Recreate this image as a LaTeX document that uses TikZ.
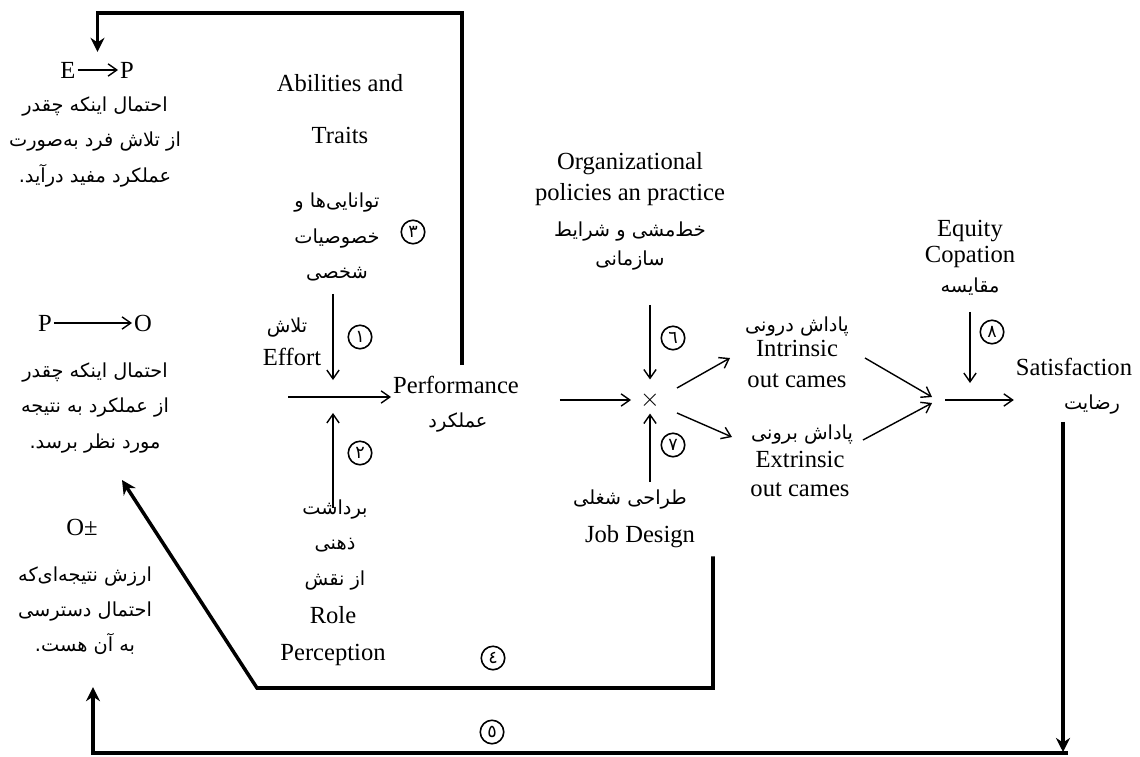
\documentclass[tikz,border=0pt]{standalone}
\usepackage{fontspec}
\setmainfont{Liberation Serif}
\newfontfamily\farsi[Script=Arabic]{DejaVu Sans}
\TeXXeTstate=1
\usetikzlibrary{arrows.meta, calc}
\newcommand{\fa}[1]{\beginR#1\endR}

\begin{document}
\begin{tikzpicture}[x=0.02cm, y=-0.02cm,
  en/.style={font=\fontsize{14}{17}\selectfont, inner sep=1pt, align=center},
  fa/.style={font=\farsi\fontsize{11}{20}\selectfont, inner sep=1pt, align=center},
  num/.style={circle, draw, line width=0.9pt, minimum size=0.47cm, inner sep=0pt, font=\farsi\fontsize{10}{10}\selectfont},
  arr/.style={line width=0.8pt, -{Straight Barb[length=5pt,width=7pt]}},
  fb/.style={line width=2pt, -{Stealth[length=8pt,width=8pt]}}]
  \useasboundingbox (0,0) rectangle (1140,757);

  % left column: expectancies and valence
  \node[en] (E1) at (68,70) {E};
  \node[en] (P1) at (127,70) {P};
  \draw[arr] (E1) -- (P1);
  \node[fa] (epText) at (95,142) {\fa{احتمال اینکه چقدر}\\\fa{از تلاش فرد به^^^^200cصورت}\\\fa{عملکرد مفید درآید.}};

  \node[en] (P2) at (45,323) {P};
  \node[en] (O1) at (143,323) {O};
  \draw[arr] (P2) -- (O1);
  \node[fa] (poText) at (95,408) {\fa{احتمال اینکه چقدر}\\\fa{از عملکرد به نتیجه}\\\fa{مورد نظر برسد.}};

  \node[en] (opm) at (82,527) {O±};
  \node[fa] (oText) at (85,611) {\fa{ارزش نتیجه^^^^200cای^^^^200cکه}\\\fa{احتمال دسترسی}\\\fa{به آن هست.}};

  % inputs of performance
  \node[en] (abil) at (340,109) {Abilities and\\[0.44cm]Traits};
  \node[fa] (abilFa) at (337,237) {\fa{توانایی^^^^200cها و}\\\fa{خصوصیات}\\\fa{شخصی}};
  \node[num] (c3) at (413,232) {٣};
  \node[fa] (effortFa) at (287,328) {\fa{تلاش}};
  \node[en] (effort) at (292,357) {Effort};
  \node[num] (c1) at (360,337) {١};
  \node[num] (c2) at (360,453) {٢};
  \node[fa] (roleFa) at (335,545) {\fa{برداشت}\\\fa{ذهنی}\\\fa{از نقش}};
  \node[en] (role) at (333,636) {Role\\[4pt]Perception};
  \node[en] (perf) at (456,385) {Performance};
  \node[fa] (perfFa) at (458,423) {\fa{عملکرد}};
  \coordinate (inS) at (288,397);
  \coordinate (inJ) at (333,397);
  \draw[arr, shorten <=0.22cm, shorten >=0.34cm] (abilFa.south -| inJ) -- (inJ);
  \draw[arr, shorten <=-0.2cm, shorten >=0.32cm] (roleFa.north -| inJ) -- (inJ);
  \draw[arr] (inS) -- (perf.west |- inS);

  % feedback 3 to E-P
  \coordinate (top3) at (462,13);
  \draw[fb, shorten <=0.18cm, shorten >=0.16cm] (perf.north -| top3) -- (top3) -| ($(E1.north)!0.5!(P1.north)$);

  % organization and job design
  \node[en] (org) at (630,179) {Organizational\\[1pt]policies an practice};
  \node[fa] (orgFa) at (630,246) {\fa{خط^^^^200cمشی و شرایط}\\[-0.14cm]\fa{سازمانی}};
  \node[en] (mult) at (650,400) {$\times$};
  \node[num] (c6) at (673,338) {٦};
  \node[num] (c7) at (673,445) {٧};
  \node[fa] (jobFa) at (630,500) {\fa{طراحی شغلی}};
  \node[en] (job) at (640,537) {Job Design};
  \draw[arr, shorten <=0.78cm, shorten >=0.14cm] (perf.east |- mult) -- (mult.west);
  \draw[arr, shorten <=0.66cm, shorten >=0.2cm] (orgFa.south -| mult) -- (mult.north);
  \draw[arr, shorten <=0.12cm, shorten >=0.06cm] (jobFa.north -| mult) -- (mult.south);

  % rewards
  \node[fa] (intrFa) at (797,327) {\fa{پاداش درونی}};
  \node[en] (intrEn) at (797,364) {Intrinsic\\[1pt]out cames};
  \node[fa] (extrFa) at (802,435) {\fa{پاداش برونی}};
  \node[en] (extrEn) at (800,474) {Extrinsic\\[-1pt]out cames};
  \draw[arr] ([shift={(27,-12)}]mult.center) -- ([shift={(-67,-6)}]intrEn.center);
  \draw[arr] ([shift={(27,13)}]mult.center) -- ([shift={(-70,2)}]extrFa.center);
  \coordinate (J) at (935,400);
  \draw[arr] ([shift={(68,-6)}]intrEn.center) -- ([shift={(-3,-3)}]J);
  \draw[arr] ([shift={(61,5)}]extrFa.center) -- ([shift={(-3,3)}]J);

  % equity and satisfaction
  \node[en] (equity) at (970,244) {Equity\\[-2pt]Copation};
  \node[fa] (equityFa) at (970,287) {\fa{مقایسه}};
  \node[num] (c8) at (992,332) {٨};
  \node[en] (sat) at (1074,367) {Satisfaction};
  \node[fa] (satFa) at (1092,405) {\fa{رضایت}};
  \draw[arr, shorten <=0.28cm, shorten >=0.34cm] (equityFa.south) -- (equityFa.south |- J);
  \draw[arr, shorten <=0.2cm] (J) -- (sat.west |- J);

  % feedback 4 and 5
  \coordinate (k4) at (713,688);
  \coordinate (k4b) at (257,688);
  \coordinate (tip4) at (122,480);
  \draw[fb, shorten <=0.12cm] (job.south -| k4) -- (k4) -- (k4b) -- (tip4);
  \node[num] (c4) at (493,658) {٤};

  \coordinate (botR) at (1063,752);
  \coordinate (botE) at (1068,753);
  \coordinate (botL) at (93,753);
  \draw[fb, shorten <=0.1cm] (botR |- satFa.south) -- (botR);
  \draw[fb, shorten >=0.6cm] (botE) -- (botL) -- (botL |- oText.south);
  \node[num] (c5) at (492,732) {٥};
\end{tikzpicture}
\end{document}
